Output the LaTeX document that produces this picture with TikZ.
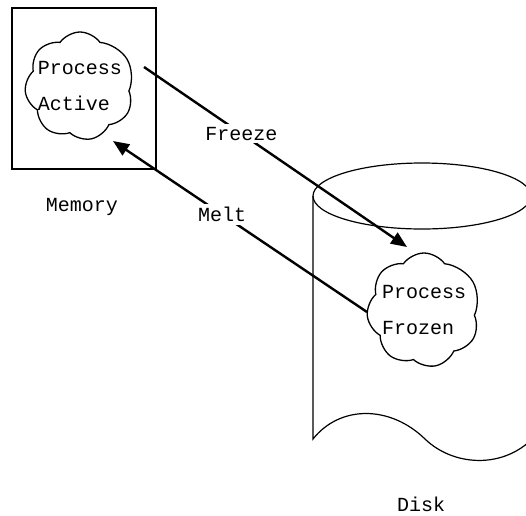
\documentclass[tikz,border=0pt]{standalone}
\usepackage{fontspec}
\setmonofont{Liberation Mono}
\usetikzlibrary{positioning, shapes.symbols, arrows.meta}

\begin{document}
\begin{tikzpicture}
  [
    x = 1pt, y = -1pt,
    every node/.style = {font = \ttfamily\fontsize{20}{36}\selectfont},
    blob/.style = {draw, cloud, cloud puffs = 7.5, cloud puff arc = 110, cloud ignores aspect, align = left, inner sep = -6pt, line width = 1.3pt},
    move/.style = {-{Triangle[length = 16pt, width = 13pt]}, line width = 2.4pt},
    tag/.style = {fill = white, inner sep = 3pt},
  ]
  \useasboundingbox (0,0) rectangle (526,515);
  \clip (0,0) rectangle (526,515);

  % memory side
  \node [draw, line width = 1.3pt, minimum width = 144pt, minimum height = 161pt] (mem) at (84,88.5) {};
  \node [blob, minimum width = 110pt, minimum height = 108pt] (active) at (80,86) {Process\\Active};
  \node (memlbl) at (82,207) {Memory};

  % the disk
  \draw [line width = 1.2pt] (422,196) ellipse [x radius = 109, y radius = 33];
  \draw [line width = 1.2pt] (313,196) -- (313,439)
    .. controls (340,405) and (390,405) .. (425,439)
    .. controls (455,468) and (510,470) .. (540,430);
  \node [blob, minimum width = 114pt, minimum height = 114pt] (frozen) at (424,310) {Process\\Frozen};
  \node (disklbl) at (421,504) {Disk};

  % moves between them
  \draw [move] ([shift = {(64,-19)}]active.center) -- node [tag, pos = 0.37] {Freeze} ([shift = {(-17,-63)}]frozen.center);
  \draw [move] ([shift = {(-57,2)}]frozen.center) -- node [tag, pos = 0.57] {Melt} ([shift = {(33,55)}]active.center);
\end{tikzpicture}
\end{document}
